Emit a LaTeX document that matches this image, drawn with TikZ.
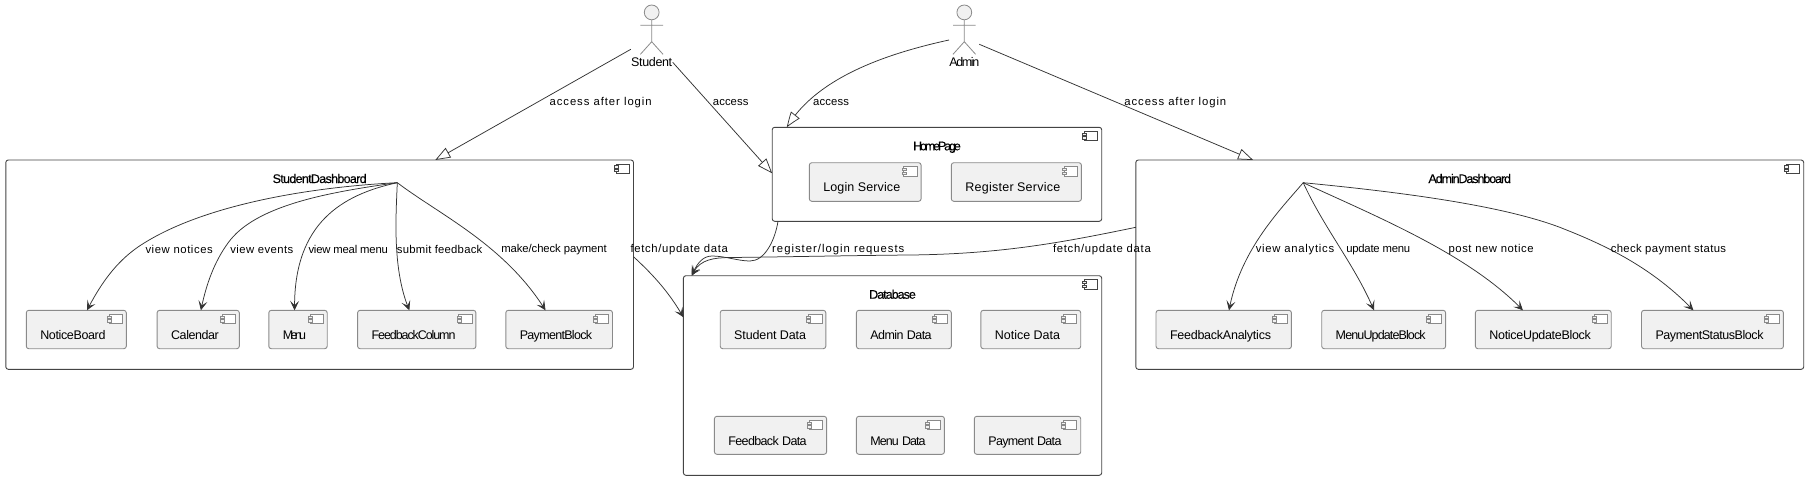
\documentclass[tikz,border=0pt]{standalone}
\usepackage{fontspec}
\usetikzlibrary{arrows.meta,bending}
\setmainfont{Liberation Sans}
\newfontfamily\titlef[FakeBold=0.35]{Liberation Sans}
\newfontfamily\labf{Liberation Sans}
\definecolor{edgecol}{HTML}{333333}
\definecolor{framecol}{HTML}{444444}
\definecolor{compcol}{HTML}{8A8A8A}
\definecolor{compfill}{HTML}{F1F1F1}
\ExplSyntaxOn
\cs_new:Npn \strcount #1 { \str_count:n {#1} }
\ExplSyntaxOff
\newsavebox\fitbox
% tracks the text so that it is #2 wide at font size #1
\newcommand{\fitx}[3]{\fontsize{#1}{14}\selectfont\sbox\fitbox{#3}\pgfmathsetmacro\fitls{100*(#2-\the\wd\fitbox)/(\strcount{#3}-1)/#1}\addfontfeature{LetterSpace=\fitls}#3}
\tikzset{
  groupnode/.style={draw=framecol,line width=0.9pt,rounded corners=2.5pt,inner sep=0pt,outer sep=0pt,anchor=north west,align=center,text=black},
  compnode/.style={draw=compcol,fill=compfill,line width=0.9pt,rounded corners=2.5pt,inner xsep=14pt,inner ysep=0pt,outer sep=0pt,anchor=north west,align=left,text=black},
  iconbody/.style={line width=0.8pt},
  lab/.style={anchor=west,inner sep=0pt,outer sep=0pt,text=black},
  actorline/.style={draw=compcol,line width=0.8pt},
  link/.style={draw=edgecol,line width=0.75pt,-{Stealth[length=9.5pt,width=9pt,inset=4.5pt,bend]}},
  extlink/.style={draw=edgecol,line width=0.75pt,-{Triangle[open,length=15pt,width=11pt,fill=none,bend]}},
}
% group box: name, x1,y1,x2,y2, title, title width
\newcommand{\groupbox}[7]{%
  \pgfmathsetlengthmacro\gw{#4-#2}\pgfmathsetlengthmacro\gd{#5-#3-23}%
  \node[groupnode,text width=\gw,text height=23pt,text depth=\gd] (#1) at (#2,#3) {\titlef\mbox{\fitx{12.5}{#7}{#6}}};%
  \iconat{#1}{framecol}}
% component box: name, x1,y1,x2,y2, text, text width
\newcommand{\compbox}[7]{%
  \pgfmathsetlengthmacro\gw{#4-#2-28}\pgfmathsetlengthmacro\gd{#5-#3-28.7}%
  \node[compnode,text width=\gw,text height=28.7pt,text depth=\gd] (#1) at (#2,#3) {\mbox{\fitx{12.5}{#7}{#6}}};%
  \iconat{#1}{compcol}}
\newcommand{\iconat}[2]{%
  \draw[iconbody,draw=#2,fill=white] ([shift={(-17.3,4)}]#1.north east) rectangle ++(13.4,9.4);
  \draw[iconbody,draw=#2,fill=compfill] ([shift={(-19,5.8)}]#1.north east) rectangle ++(4,2.2);
  \draw[iconbody,draw=#2,fill=compfill] ([shift={(-19,9.4)}]#1.north east) rectangle ++(4,2.2);}
% edge label: name,x1,x2,y,text
\newcommand{\elab}[5]{\pgfmathsetmacro\lw{#3-#2}\node[lab] (#1) at (#2,#4) {\labf\fitx{11.3}{\lw}{#5}};}
% actor: name, cx, label width, label
\newcommand{\actor}[4]{%
  \draw[actorline,fill=compfill] (#2,12.4) circle[radius=7.4];
  \draw[actorline] (#2,19.8) -- (#2,41.7) (#2-11.3,25.2) -- (#2+11.3,25.2) (#2-11.3,54.3) -- (#2,41.7) -- (#2+11.3,54.3);
  \node[inner sep=0pt,outer sep=0pt,text=black] (#1) at (#2,62) {\fitx{12.5}{#3}{#4}};}
\begin{document}
\begin{tikzpicture}[x=1pt,y=-1pt]
\useasboundingbox[fill=white] (0,0) rectangle (1809,480);
\actor{student}{651.7}{41}{Student}
\actor{admin}{964.3}{30}{Admin}
\groupbox{sd}{5.8}{160}{633.5}{369.3}{StudentDashboard}{94}
\groupbox{home}{772.2}{127.3}{1101.7}{221.3}{HomePage}{47.8}
\groupbox{db}{683.4}{275.7}{1101.7}{475.3}{Database}{46.7}
\groupbox{ad}{1135.8}{160}{1803.7}{369.3}{AdminDashboard}{82.6}
\compbox{nb}{26.3}{310.3}{126.3}{348.7}{NoticeBoard}{65.2}
\compbox{cal}{157.1}{310.3}{239.3}{348.7}{Calendar}{47.8}
\compbox{menu}{268.8}{310.3}{327.2}{348.7}{Menu}{23.2}
\compbox{fc}{357.6}{310.3}{475.9}{348.7}{FeedbackColumn}{83.9}
\compbox{pb}{505.8}{310.3}{612.5}{348.7}{PaymentBlock}{72.3}
\compbox{login}{809.3}{162.7}{921.1}{201.3}{Login Service}{77.3}
\compbox{reg}{951.3}{162.7}{1081.4}{201.3}{Register Service}{95.7}
\compbox{dstu}{720.2}{310.3}{825.8}{348.7}{Student Data}{71.6}
\compbox{dadm}{856.4}{310.3}{951.3}{348.7}{Admin Data}{60.1}
\compbox{dnot}{980.8}{310.3}{1080.7}{348.7}{Notice Data}{65.4}
\compbox{dfee}{714.4}{416.3}{826.6}{454.3}{Feedback Data}{76.9}
\compbox{dmen}{856.4}{416.3}{944.4}{454.3}{Menu Data}{53.2}
\compbox{dpay}{974.3}{416.3}{1080.7}{454.3}{Payment Data}{71.9}
\compbox{fa}{1156}{310.3}{1291.4}{348.7}{FeedbackAnalytics}{101}
\compbox{mu}{1321.7}{310.3}{1445.6}{348.7}{MenuUpdateBlock}{90}
\compbox{nu}{1475.4}{310.3}{1611.2}{348.7}{NoticeUpdateBlock}{101.5}
\compbox{ps}{1641.5}{310.3}{1783.4}{348.7}{PaymentStatusBlock}{108}
\coordinate (sdhub) at ([shift={(391.5,22.7)}]sd.north west);
\coordinate (adhub) at ([shift={(167.4,22.7)}]ad.north west);
% actors to boxes
\draw[extlink] ([shift={(-20.9,-12.7)}]student.center) -- ([shift={(429.5,0)}]sd.north west);
\draw[extlink] ([shift={(21,0.3)}]student.center) -- ([shift={(0,46)}]home.north west);
\draw[extlink] ([shift={(-15.3,-22)}]admin.center) .. controls (880,55) and (815,80) .. ([shift={(14.6,0)}]home.north west);
\draw[extlink] ([shift={(15,-17.7)}]admin.center) -- ([shift={(117.3,0)}]ad.north west);
% student dashboard
\draw[link] (sdhub) .. controls (310,187) and (200,205) .. (138,247) .. controls (115,263) and (100,285) .. ([shift={(60.7,0)}]nb.north west);
\draw[link] (sdhub) .. controls (330,192) and (255,205) .. (228,243) .. controls (212,265) and (205,290) .. ([shift={(43.8,0)}]cal.north west);
\draw[link] (sdhub) .. controls (340,195) and (293,225) .. ([shift={(25.8,0)}]menu.north west);
\draw[link] (sdhub) .. controls (396,215) and (392,270) .. ([shift={(51.8,0)}]fc.north west);
\draw[link] (sdhub) .. controls (440,215) and (505,245) .. ([shift={(39.7,0)}]pb.north west);
% admin dashboard
\draw[link] (adhub) .. controls (1280,210) and (1240,250) .. ([shift={(73,0)}]fa.north west);
\draw[link] (adhub) .. controls (1325,230) and (1355,265) .. ([shift={(52.3,0)}]mu.north west);
\draw[link] (adhub) .. controls (1380,218) and (1470,255) .. ([shift={(47.5,0)}]nu.north west);
\draw[link] (adhub) .. controls (1400,192) and (1500,205) .. (1559,227) .. controls (1600,243) and (1650,265) .. ([shift={(51.9,0)}]ps.north west);
% to database
\draw[link] ([shift={(0,96.7)}]sd.north east) .. controls (650,272) and (668,290) .. ([shift={(0,41.6)}]db.north west);
\draw[link] ([shift={(5.8,0)}]home.south west) .. controls (775,240) and (765,261) .. (750,261) .. controls (738,261) and (725,256) .. (712,256) .. controls (702,256) and (696,265) .. ([shift={(8.4,0)}]db.north west);
\draw[link] ([shift={(0,67.3)}]ad.north west) .. controls (1060,243) and (1000,254) .. (910,255) .. controls (850,255.5) and (780,257) .. (730,257.5) .. controls (712,257.7) and (698,260) .. ([shift={(8.4,0)}]db.north west);
% labels
\elab{l1}{549.6}{653.6}{102.3}{access after login}
\elab{l2}{712.9}{748.5}{102.3}{access}
\elab{l3}{813.2}{849.1}{102.3}{access}
\elab{l4}{1124.4}{1228.1}{102.3}{access after login}
\elab{l5}{145.5}{213.4}{249.3}{view notices}
\elab{l6}{230.4}{293.8}{249.3}{view events}
\elab{l7}{308.5}{387.5}{249.3}{view meal menu}
\elab{l8}{396.9}{482.6}{249.3}{submit feedback}
\elab{l9}{501.3}{606.7}{249.3}{make/check payment}
\elab{l10}{630.6}{728.6}{249.3}{fetch/update data}
\elab{l11}{772.2}{905.4}{249.3}{register/login requests}
\elab{l12}{1053.1}{1151.5}{249.3}{fetch/update data}
\elab{l13}{1255.8}{1334.9}{249.3}{view analytics}
\elab{l14}{1346.3}{1410}{249.3}{update menu}
\elab{l15}{1448.6}{1534.8}{249.3}{post new notice}
\elab{l16}{1610.8}{1726.8}{249.3}{check payment status}
\end{tikzpicture}
\end{document}
